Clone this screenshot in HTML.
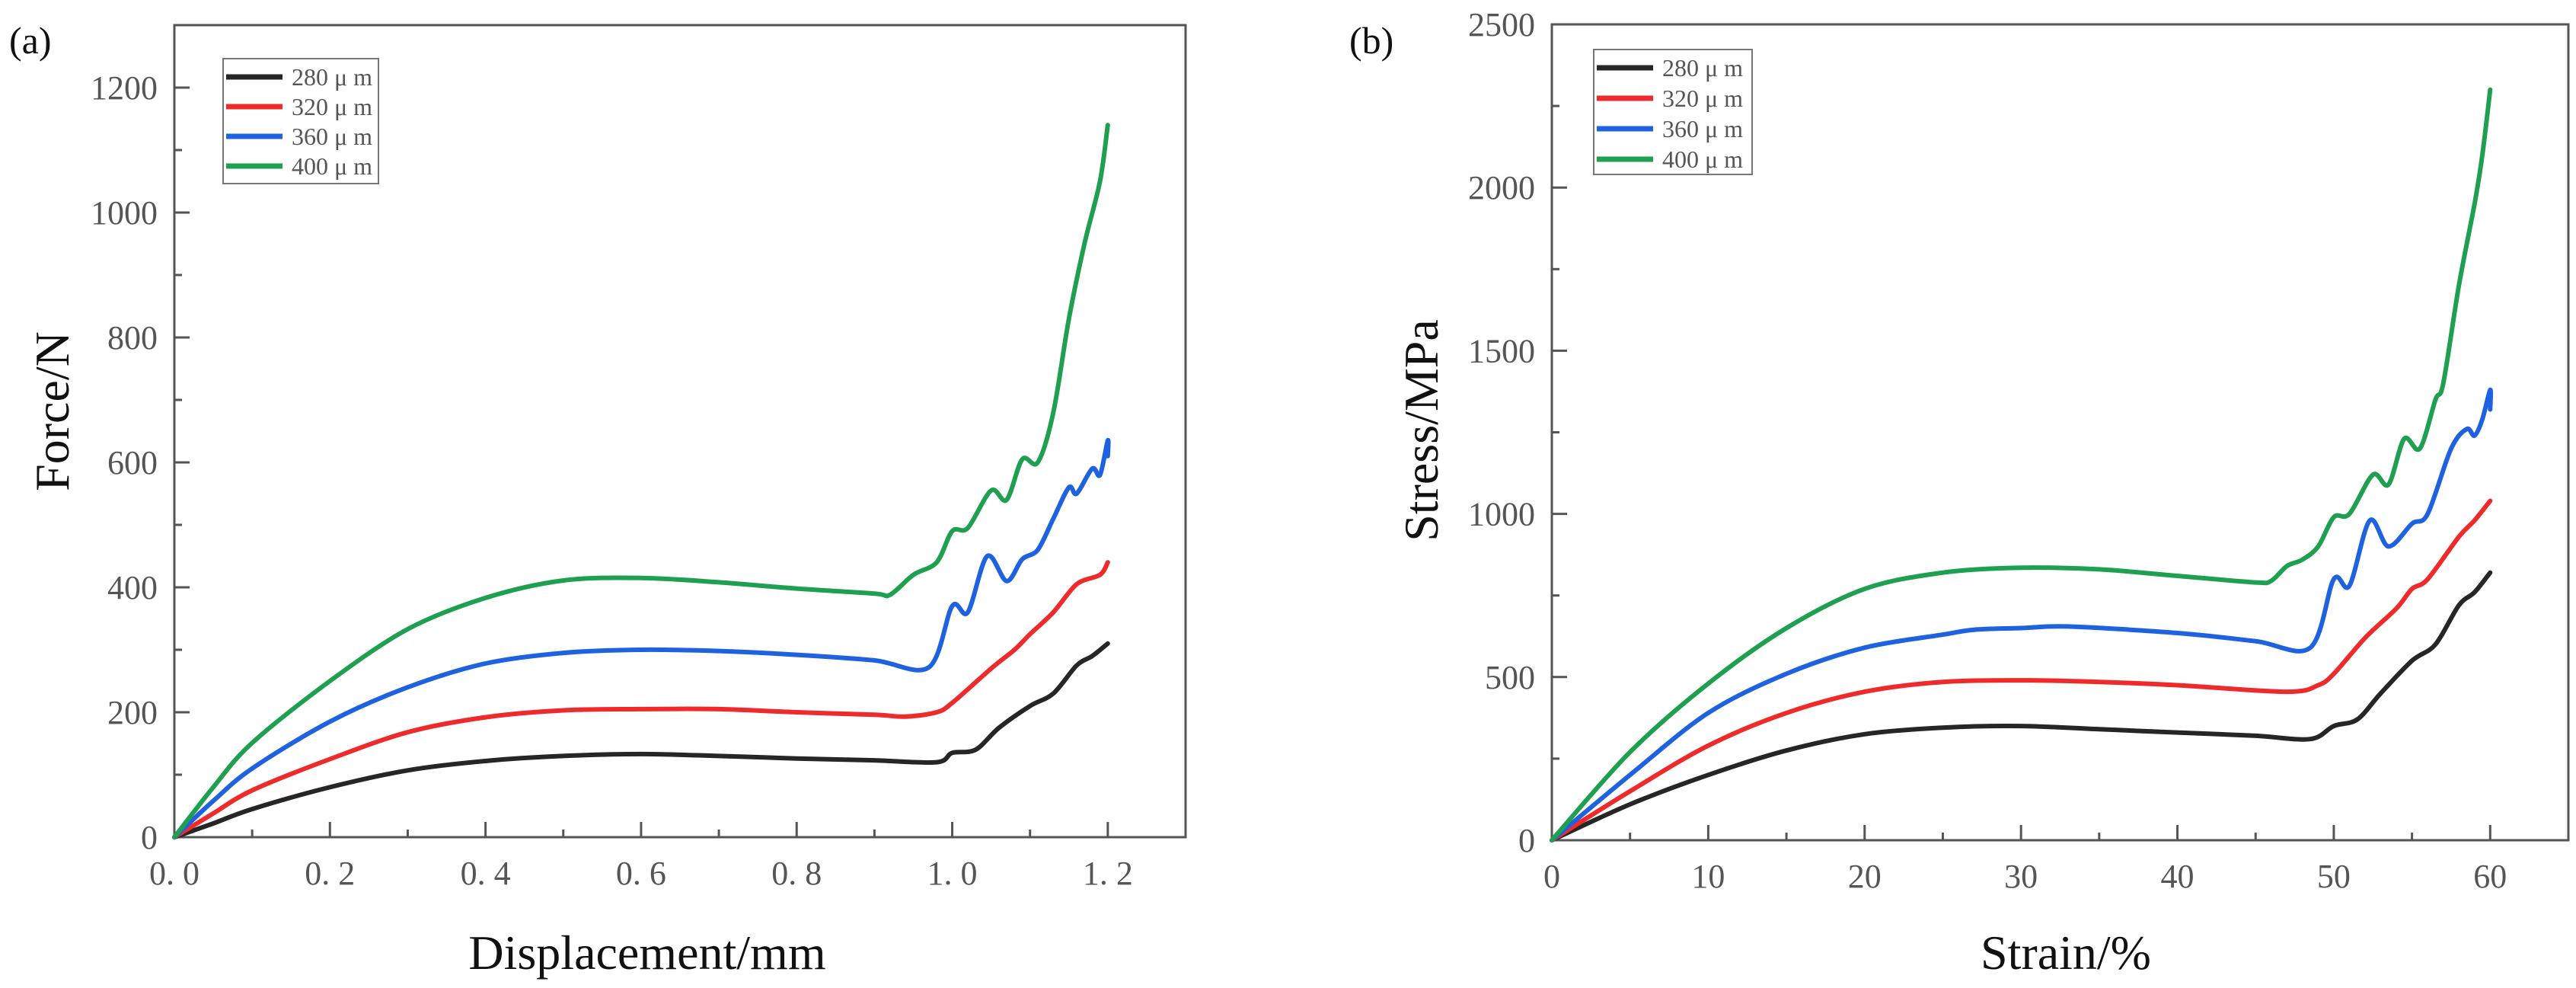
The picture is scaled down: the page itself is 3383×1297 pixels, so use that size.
<!DOCTYPE html>
<html><head><meta charset="utf-8"><style>
html,body{margin:0;padding:0;background:#fff;}
svg{display:block;}
text{font-family:"Liberation Serif","Noto Serif CJK SC",serif;}
</style></head><body>
<svg id="fig" width="3383" height="1297" viewBox="0 0 3383 1297" xmlns="http://www.w3.org/2000/svg"></svg>
<script>
const seriesNames = ["280 μm","320 μm","360 μm","400 μm"];
const seriesColors = ["#262626","#ee2a2a","#1f62e0","#1fa050"];

// Panel (a) data: displacement (mm) vs force (N)
const aBlackX = [0,0.05,0.1,0.2,0.3,0.4,0.5,0.6,0.7,0.8,0.9,0.98,1.0,1.03,1.06,1.1,1.13,1.16,1.18,1.2];
const aBlackY = [0,22,45,80,107,122,130,133,130,126,123,120,135,140,175,210,230,275,290,310];
const aRedX = [0,0.05,0.1,0.2,0.3,0.4,0.5,0.6,0.7,0.8,0.9,0.94,0.98,1.0,1.05,1.08,1.1,1.13,1.16,1.19,1.2];
const aRedY = [0,38,75,125,168,192,203,205,205,200,196,193,200,215,270,300,325,360,405,420,440];
const aBlueX = [0,0.05,0.1,0.2,0.3,0.4,0.5,0.6,0.7,0.8,0.9,0.97,1.0,1.02,1.045,1.07,1.09,1.11,1.13,1.15,1.16,1.18,1.19,1.2,1.2];
const aBlueY = [0,58,110,185,240,278,295,300,298,292,283,272,370,360,450,410,445,460,510,560,550,590,580,635,610];
const aGreenX = [0,0.05,0.1,0.2,0.3,0.4,0.5,0.6,0.7,0.8,0.9,0.92,0.95,0.98,1.0,1.02,1.05,1.07,1.09,1.11,1.13,1.15,1.17,1.19,1.2];
const aGreenY = [0,80,151,250,333,383,411,415,408,398,390,388,420,440,490,495,555,540,605,600,680,830,950,1050,1140];

// Panel (b) data: strain (%) vs stress (MPa)
const bBlackX = [0,5,10,15,20,25,30,35,40,45,48.5,50,51.5,53,55,56.5,58,59,60];
const bBlackY = [0,110,200,275,325,345,350,340,330,320,310,350,370,450,550,600,720,760,820];
const bRedX = [0,5,10,15,20,25,30,35,40,47,49,50,52,54,55,56,58,59,60];
const bRedY = [0,150,290,390,455,485,490,485,475,455,475,510,620,710,770,800,930,980,1040];
const bBlueX = [0,5,10,15,20,25,27,30,33,40,45,48.5,50,51,52.3,53.5,55,56,57.5,58.5,59,59.5,60,60];
const bBlueY = [0,200,390,510,590,630,645,650,655,635,610,590,800,780,980,900,970,1000,1200,1260,1240,1290,1380,1320];
const bGreenX = [0,5,10,15,20,25,30,35,40,45,46,47,48,49,50,51,52.5,53.5,54.5,55.5,56.5,57,58,59,59.5,60];
const bGreenY = [0,270,480,650,770,820,835,830,810,790,795,840,860,900,990,1000,1120,1090,1230,1200,1350,1400,1700,1950,2100,2300];

const aXTicks = ["0.0","0.2","0.4","0.6","0.8","1.0","1.2"];
const aYTicks = ["0","200","400","600","800","1000","1200"];
const bXTicks = ["0","10","20","30","40","50","60"];
const bYTicks = ["0","500","1000","1500","2000","2500"];

const NS = "http://www.w3.org/2000/svg";
const svg = document.getElementById("fig");
function mk(tag, attrs, parent){const e=document.createElementNS(NS,tag);for(const k in attrs)e.setAttribute(k,attrs[k]);(parent||svg).appendChild(e);return e;}

function smoothPath(pts){
  let d = "M"+pts[0][0].toFixed(1)+","+pts[0][1].toFixed(1);
  for(let i=0;i<pts.length-1;i++){
    const p0=pts[i-1]||pts[i], p1=pts[i], p2=pts[i+1], p3=pts[i+2]||p2;
    const t=0.16;
    const c1=[p1[0]+(p2[0]-p0[0])*t, p1[1]+(p2[1]-p0[1])*t];
    const c2=[p2[0]-(p3[0]-p1[0])*t, p2[1]-(p3[1]-p1[1])*t];
    d += " C"+c1[0].toFixed(1)+","+c1[1].toFixed(1)+" "+c2[0].toFixed(1)+","+c2[1].toFixed(1)+" "+p2[0].toFixed(1)+","+p2[1].toFixed(1);
  }
  return d;
}

function panel(cfg){
  const g = mk("g",{});
  
  
  const X = v => cfg.x0 + (v - cfg.xmin) / (cfg.xmax - cfg.xmin) * (cfg.x1 - cfg.x0);
  const Y = v => cfg.y0 - (v - cfg.ymin) / (cfg.ymax - cfg.ymin) * (cfg.y0 - cfg.y1);
  const fr = mk("rect",{x:cfg.x0,y:cfg.y1,width:cfg.x1-cfg.x0,height:cfg.y0-cfg.y1,fill:"none",stroke:"#555",'stroke-width':3},g);
  
  
  cfg.xTicks.forEach(t=>{
    const v = parseFloat(t), px = X(v);
    const tk = mk("line",{x1:px,x2:px,y1:cfg.y0,y2:cfg.y0-20,stroke:"#555",'stroke-width':3},g);
    
    
    const tl = mk("text",{x:px,y:cfg.y0+62,'text-anchor':"middle",'font-size':44,fill:"#555"},g);
    tl.textContent = t.replace(".", ". ");
    
    
    const mv = v + cfg.xStep/2;
    if(mv < cfg.xmax){
      const mt = mk("line",{x1:X(mv),x2:X(mv),y1:cfg.y0,y2:cfg.y0-10,stroke:"#555",'stroke-width':3},g);
      
      
    }
  });
  cfg.yTicks.forEach(t=>{
    const v = parseFloat(t), py = Y(v);
    const tk = mk("line",{x1:cfg.x0,x2:cfg.x0+20,y1:py,y2:py,stroke:"#555",'stroke-width':3},g);
    
    
    const tl = mk("text",{x:cfg.x0-22,y:py+15,'text-anchor':"end",'font-size':44,fill:"#555"},g);
    tl.textContent = t;
    
    
    const mv = v + cfg.yStep/2;
    if(mv < cfg.ymax){
      const mt = mk("line",{x1:cfg.x0,x2:cfg.x0+10,y1:Y(mv),y2:Y(mv),stroke:"#555",'stroke-width':3},g);
      
      
    }
  });
  cfg.series.forEach((s,i)=>{
    const pts = s[0].map((xv,j)=>[X(xv),Y(s[1][j])]);
    const p = mk("path",{d:smoothPath(pts),fill:"none",stroke:seriesColors[i],'stroke-width':6,'stroke-linejoin':"round",'stroke-linecap':"round"},g);
    
    
  });
  const L = cfg.legend;
  const lb = mk("rect",{x:L.x,y:L.y,width:L.w,height:L.h,fill:"#fff",stroke:"#777",'stroke-width':2},g);
  
  
  seriesNames.forEach((n,i)=>{
    const yy = L.y + 24 + i*L.dy;
    const ll = mk("line",{x1:L.x+4,x2:L.x+78,y1:yy,y2:yy,stroke:seriesColors[i],'stroke-width':7},g);
    
    
    const lt = mk("text",{x:L.x+90,y:yy+11,'font-size':32,fill:"#555"},g);
    lt.textContent = n.replace("μ","μ ");
    
    
  });
  const xt = mk("text",{x:cfg.xtX,y:1272,'text-anchor':"middle",'font-size':64,fill:"#111"},g);
  xt.textContent = cfg.xTitle;
  
  
  const yt = mk("text",{x:0,y:0,'text-anchor':"middle",'font-size':64,fill:"#111",transform:`translate(${cfg.ytX},${cfg.ytY}) rotate(-90)`},g);
  yt.textContent = cfg.yTitle;
  
  
  const pl = mk("text",{x:cfg.labX,y:70,'font-size':50,fill:"#111",'font-family':"Liberation Sans, sans-serif"},g);
  pl.textContent = cfg.label;
  
  
}

panel({id:"panel-a",x0:229,x1:1557,y0:1099,y1:33,xmin:0,xmax:1.3,ymin:0,ymax:1300,xStep:0.2,yStep:200,
  xTicks:aXTicks,yTicks:aYTicks,
  series:[[aBlackX,aBlackY],[aRedX,aRedY],[aBlueX,aBlueY],[aGreenX,aGreenY]],
  legend:{x:293,y:77,w:204,h:164,dy:39},
  xTitle:"Displacement/mm",yTitle:"Force/N",xtX:850,ytX:90,ytY:540,label:"(a)",labX:12});

panel({id:"panel-b",x0:2038,x1:3373,y0:1103,y1:32,xmin:0,xmax:65,ymin:0,ymax:2500,xStep:10,yStep:500,
  xTicks:bXTicks,yTicks:bYTicks,
  series:[[bBlackX,bBlackY],[bRedX,bRedY],[bBlueX,bBlueY],[bGreenX,bGreenY]],
  legend:{x:2093,y:65,w:208,h:164,dy:40},
  xTitle:"Strain/%",yTitle:"Stress/MPa",xtX:2713,ytX:1888,ytY:565,label:"(b)",labX:1772});
</script>
</body></html>
